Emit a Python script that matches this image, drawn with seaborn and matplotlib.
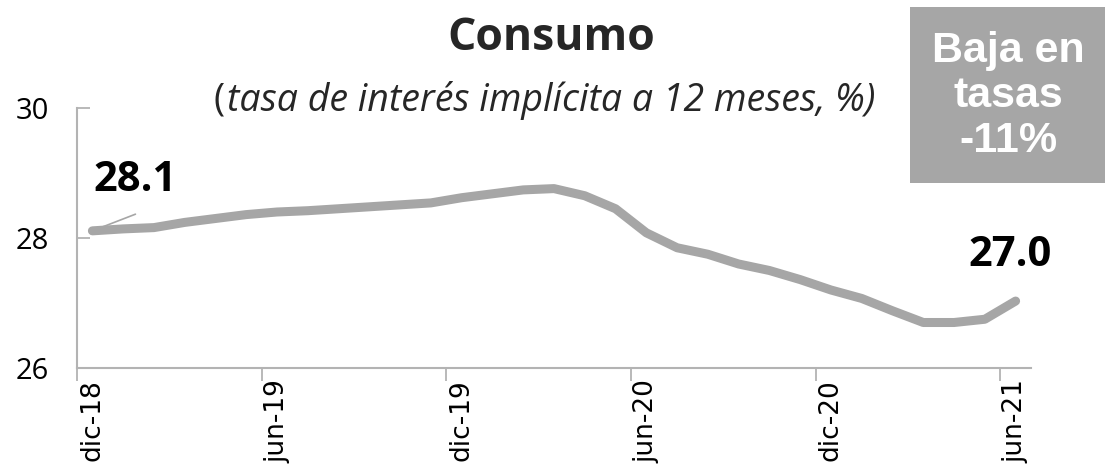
import matplotlib
matplotlib.use("Agg")
import matplotlib.pyplot as plt
import seaborn as sns
import pandas as pd
import numpy as np
from matplotlib.patches import Rectangle

# ---- data ----
months = ["dic-18", "ene-19", "feb-19", "mar-19", "abr-19", "may-19", "jun-19",
          "jul-19", "ago-19", "sep-19", "oct-19", "nov-19", "dic-19",
          "ene-20", "feb-20", "mar-20", "abr-20", "may-20", "jun-20",
          "jul-20", "ago-20", "sep-20", "oct-20", "nov-20", "dic-20",
          "ene-21", "feb-21", "mar-21", "abr-21", "may-21", "jun-21"]
rate = [28.11, 28.14, 28.16, 28.24, 28.30, 28.36, 28.40,
        28.42, 28.45, 28.48, 28.51, 28.54, 28.62,
        28.68, 28.74, 28.76, 28.65, 28.45, 28.08,
        27.85, 27.75, 27.60, 27.50, 27.36, 27.20,
        27.07, 26.88, 26.70, 26.70, 26.75, 27.03]
tick_labels = ["dic-18", "jun-19", "dic-19", "jun-20", "dic-20", "jun-21"]
y_ticks = [26, 28, 30]
title = "Consumo"
subtitle = "tasa de interés implícita a 12 meses, %)"
box_text = "Baja en\ntasas\n-11%"

LINE = "#A6A6A6"
AXC = "#B3B3B3"

sns.set_style("white")
plt.rcParams['font.family'] = ['Open Sans', 'DejaVu Sans']

df = pd.DataFrame({"mes": months, "tasa": rate})
df["pos"] = np.arange(len(df)) + 0.5

fig = plt.figure(figsize=(11.15, 4.71), dpi=100)
ax = fig.add_axes([77/1115, 1 - 368/471, (1031 - 77)/1115, (368 - 108)/471])

sns.lineplot(data=df, x="pos", y="tasa", ax=ax, color=LINE, linewidth=6.5,
             solid_capstyle="round", solid_joinstyle="round")

ax.set_xlim(0, len(df))
ax.set_ylim(26, 30)
ax.set_xlabel("")
ax.set_ylabel("")

# y axis
ax.set_yticks(y_ticks)
ax.set_yticklabels([str(v) for v in y_ticks], fontsize=21, color="black")
ax.tick_params(axis="y", direction="in", length=9, width=1.3, color=AXC, pad=20, left=True)

# x axis: labels at category centres, tick marks at boundaries
lab_pos = [df.loc[df.mes == m, "pos"].values[0] for m in tick_labels]
ax.set_xticks(lab_pos)
ax.set_xticklabels(tick_labels, rotation=90, color="black",
                   fontdict={"family": "DejaVu Sans", "size": 19})
ax.tick_params(axis="x", which="major", length=0, pad=8)
ax.set_xticks([p - 0.5 for p in lab_pos], minor=True)
ax.tick_params(axis="x", which="minor", direction="out", length=9, width=1.3, color=AXC, bottom=True)

for s in ["top", "right"]:
    ax.spines[s].set_visible(False)
for s in ["left", "bottom"]:
    ax.spines[s].set_color(AXC)
    ax.spines[s].set_linewidth(1.5)

# data labels
x0, y0 = df.pos.iloc[0], df.tasa.iloc[0]
x1, y1 = df.pos.iloc[-1], df.tasa.iloc[-1]
ax.annotate("", xy=(x0, y0), xytext=(31, 12), textcoords="offset points",
            arrowprops=dict(arrowstyle="-", color=LINE, lw=1.2, shrinkA=0, shrinkB=4))
ax.annotate(f"{y0:.1f}", xy=(x0, y0), xytext=(1, 36), textcoords="offset points",
            ha="left", va="center", fontsize=30, fontweight="bold", color="black")
ax.annotate(f"{y1:.1f}", xy=(x1, y1), xytext=(-4, 33), textcoords="offset points",
            ha="center", va="center", fontsize=30, fontweight="bold", color="black")

# titles
fig.text(551/1115, 1 - 38/471, title, ha="center", va="center", fontsize=32, fontweight="bold")
fig.text(213/1115, 1 - 101/471, "(", ha="left", va="center", fontsize=27)
fig.text(227/1115, 1 - 101/471, subtitle, ha="left", va="center", fontsize=27, style="italic")

# box
fig.patches.append(Rectangle((910/1115, 1 - 183/471), 195/1115, 176/471,
                             transform=fig.transFigure, facecolor=LINE, edgecolor="none"))
fig.text(1008/1115, 1 - 96/471, box_text, ha="center", va="center", fontsize=31,
         fontweight="bold", color="white", family="Liberation Sans", linespacing=1.15,
         multialignment="center")

fig.savefig("out.png", dpi=100)
